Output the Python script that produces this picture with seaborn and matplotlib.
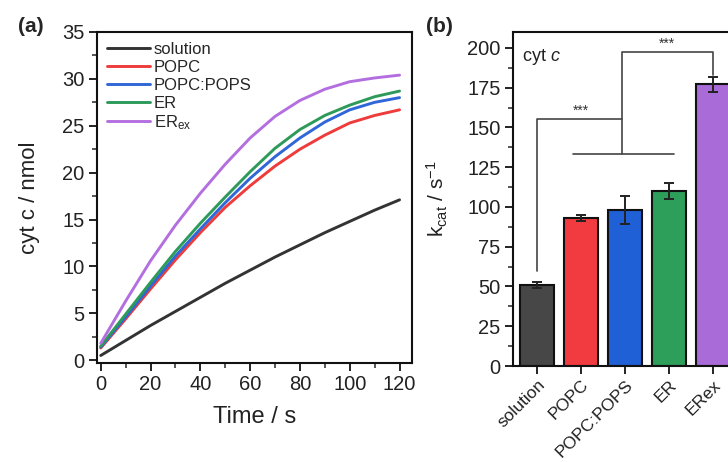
import numpy as np
import pandas as pd
import matplotlib
matplotlib.use("Agg")
import matplotlib.pyplot as plt
import seaborn as sns
from matplotlib.ticker import MultipleLocator

sns.set_style("ticks")
plt.rcParams['font.family'] = ['Liberation Sans', 'DejaVu Sans']
plt.rcParams['mathtext.fontset'] = 'custom'
plt.rcParams['mathtext.rm'] = 'Liberation Sans'
plt.rcParams['mathtext.it'] = 'Liberation Sans:italic'

# ---- data ----
time_s = [0, 10, 20, 30, 40, 50, 60, 70, 80, 90, 100, 110, 120]
solution = [0.5, 2.1, 3.7, 5.2, 6.7, 8.2, 9.6, 11.0, 12.3, 13.6, 14.8, 16.0, 17.1]
popc = [1.3, 4.4, 7.6, 10.7, 13.6, 16.3, 18.6, 20.7, 22.5, 24.0, 25.3, 26.1, 26.7]
popc_pops = [1.4, 4.6, 7.9, 11.1, 14.0, 16.8, 19.4, 21.7, 23.7, 25.4, 26.7, 27.5, 28.0]
er = [1.5, 4.9, 8.3, 11.6, 14.6, 17.4, 20.1, 22.6, 24.6, 26.1, 27.2, 28.1, 28.7]
er_ex = [1.8, 6.3, 10.6, 14.4, 17.8, 20.9, 23.7, 26.0, 27.7, 28.9, 29.7, 30.1, 30.4]
series_labels = ["solution", "POPC", "POPC:POPS", "ER", "ER$_{\\mathrm{ex}}$"]

bar_categories = ["solution", "POPC", "POPC:POPS", "ER", "ERex"]
kcat = [51, 93, 98, 110, 177]
kcat_err = [2, 2, 9, 5, 5]

line_colors = ["#333333", "#EE3B3B", "#2F66D8", "#2E9A5A", "#B36FE0"]
bar_colors = ["#474747", "#F23B40", "#1F60D6", "#2E9E5B", "#A96BD8"]

# ---- figure ----
fig = plt.figure(figsize=(7.28, 4.62), dpi=100)
axA = fig.add_axes([97/728, 1-363/462, (412-97)/728, (363-32)/462])
axB = fig.add_axes([513/728, 1-366/462, (737-513)/728, (366-32)/462])

# panel a
rows = []
for lab, vals in zip(series_labels, [solution, popc, popc_pops, er, er_ex]):
    for t, v in zip(time_s, vals):
        rows.append({"Time": t, "nmol": v, "series": lab})
dfA = pd.DataFrame(rows)
sns.lineplot(data=dfA, x="Time", y="nmol", hue="series", hue_order=series_labels,
             palette=line_colors, linewidth=2.1, ax=axA)
axA.set_xlim(-1.5, 125)
axA.set_ylim(-0.3, 35)
axA.xaxis.set_major_locator(MultipleLocator(20))
axA.xaxis.set_minor_locator(MultipleLocator(10))
axA.yaxis.set_major_locator(MultipleLocator(5))
axA.yaxis.set_minor_locator(MultipleLocator(2.5))
axA.set_xlabel("Time / s", fontsize=17, color="#222222", labelpad=8)
axA.set_ylabel("cyt c / nmol", fontsize=16, color="#222222", labelpad=16)
leg = axA.legend(loc="upper left", frameon=False, fontsize=12, handlelength=2.6,
                 handletextpad=0.2, labelspacing=0.17, borderaxespad=0.3,
                 borderpad=0.3)
for h in leg.get_lines():
    h.set_linewidth(2.1)

# panel b
dfB = pd.DataFrame({"cat": bar_categories, "kcat": kcat})
sns.barplot(data=dfB, x="cat", y="kcat", hue="cat", palette=bar_colors,
            order=bar_categories, hue_order=bar_categories, legend=False,
            errorbar=None, width=0.77, edgecolor="#111111", linewidth=1.5,
            saturation=1, ax=axB)
axB.errorbar(range(len(kcat)), kcat, yerr=kcat_err, fmt="none", ecolor="#222222",
             elinewidth=1.4, capsize=3.5, capthick=1.4)
axB.set_xlim(-0.55, 4.55)
axB.set_ylim(0, 210)
axB.yaxis.set_major_locator(MultipleLocator(25))
axB.yaxis.set_minor_locator(MultipleLocator(12.5))
axB.set_xlabel("")
axB.set_ylabel("k$_{\\mathrm{cat}}$ / s$^{\\mathrm{-1}}$", fontsize=15, color="#222222",
               labelpad=12)
axB.set_xticks(range(len(bar_categories)))
axB.set_xticklabels(bar_categories, rotation=45, ha="right", rotation_mode="anchor",
                    fontsize=12.5)
axB.text(0.04, 0.955, "cyt $c$", transform=axB.transAxes, fontsize=13,
         ha="left", va="top", color="#222222")

# significance brackets
bc = "#444444"
axB.plot([0, 0, 1.93], [60, 155, 155], color=bc, lw=1.2)
axB.plot([0.82, 3.12], [133, 133], color=bc, lw=1.2)
axB.plot([1.93, 1.93, 4, 4], [133, 197.5, 197.5, 183], color=bc, lw=1.2)
axB.text(1.0, 156, "***", ha="center", va="bottom", fontsize=10, color="#333333")
axB.text(2.95, 198.5, "***", ha="center", va="bottom", fontsize=10, color="#333333")

for ax in (axA, axB):
    for sp in ax.spines.values():
        sp.set_visible(True)
        sp.set_linewidth(1.5)
        sp.set_color("#111111")
    ax.tick_params(which="major", direction="out", length=6, width=1.3,
                   labelsize=14.5, colors="#111111", labelcolor="#222222",
                   top=False, right=False, pad=3)
    ax.tick_params(which="minor", direction="out", length=3.5, width=1.1,
                   top=False, right=False)
axB.tick_params(axis="x", which="major", labelsize=12.5, pad=2)
axB.tick_params(axis="x", which="minor", bottom=False)

fig.text(18/728, 1-26/462, "(a)", fontsize=15, fontweight="bold", ha="left", va="center")
fig.text(426/728, 1-26/462, "(b)", fontsize=15, fontweight="bold", ha="left", va="center")

fig.savefig("out.png", dpi=100)
